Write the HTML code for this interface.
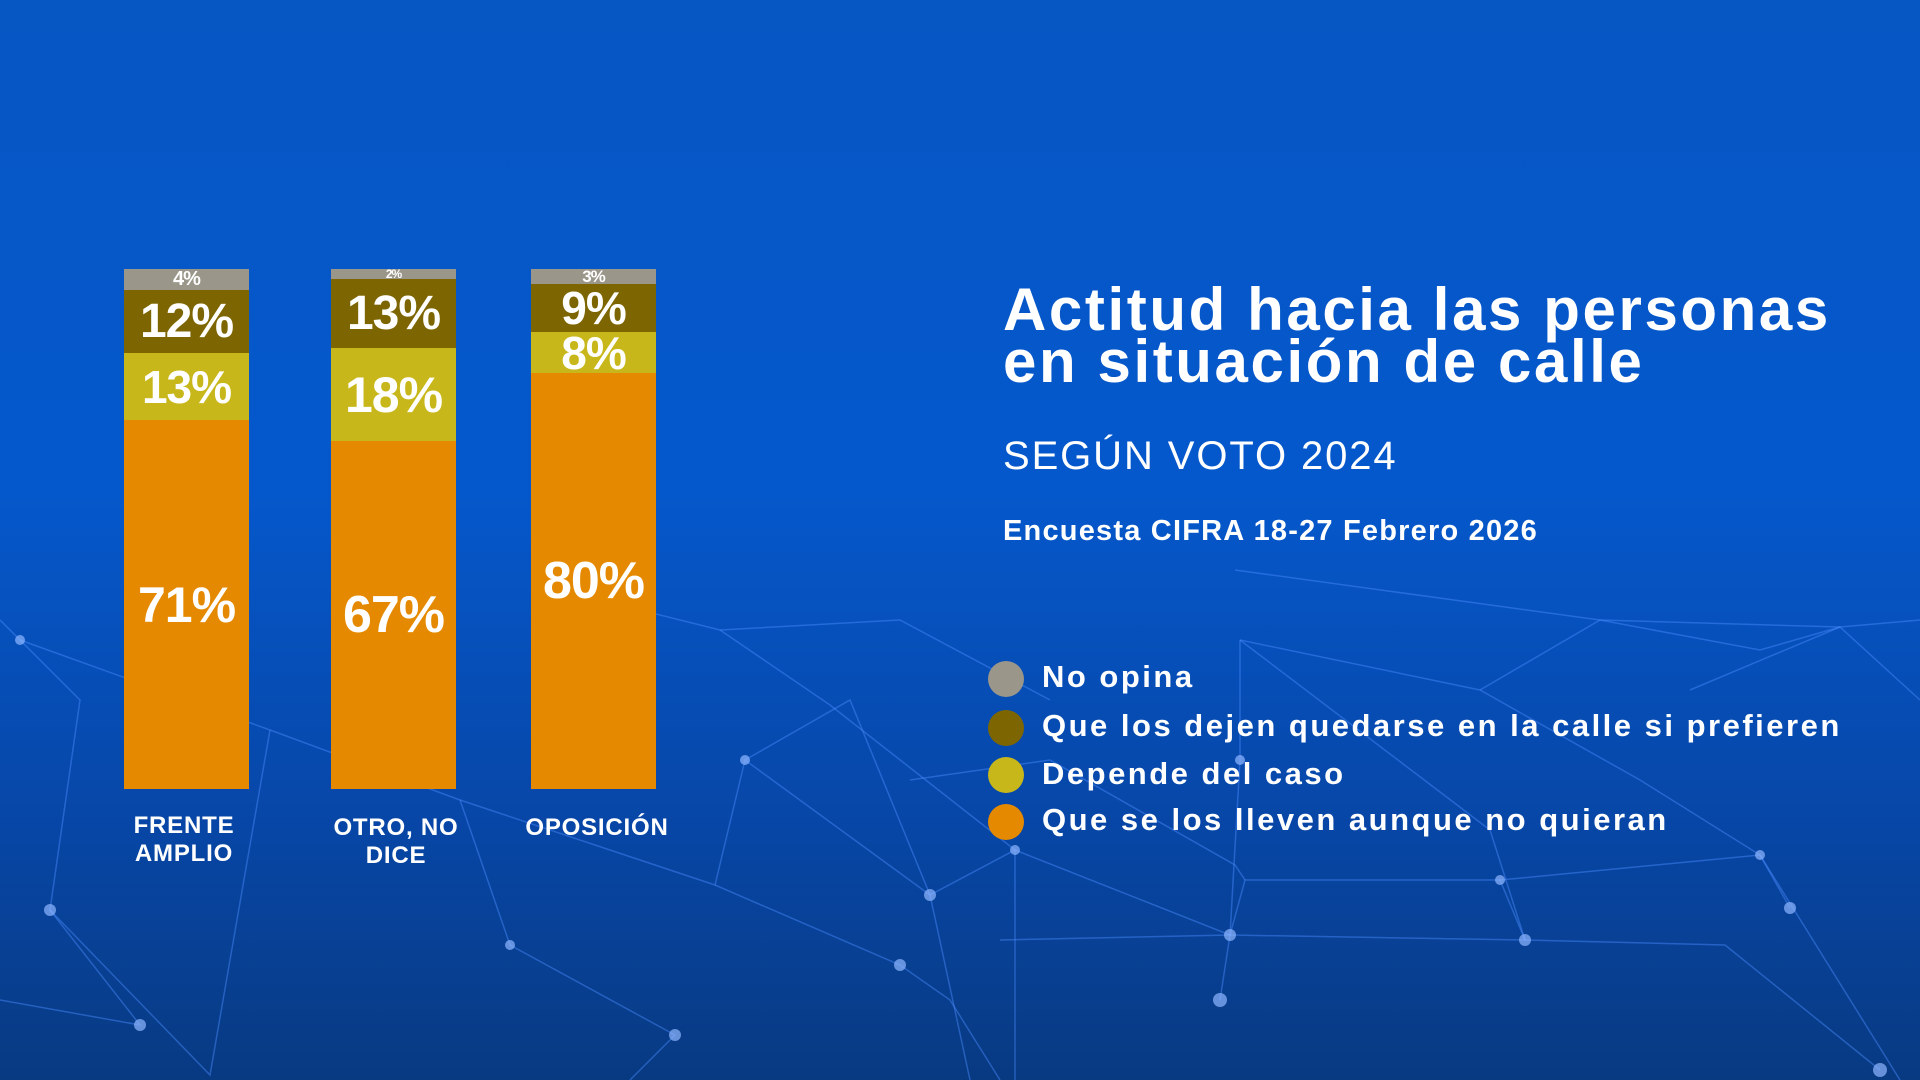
<!DOCTYPE html>
<html><head><meta charset="utf-8"><style>
body{margin:0;width:1920px;height:1080px;overflow:hidden;font-family:"Liberation Sans",sans-serif;}
#bg{position:absolute;left:0;top:0;width:1920px;height:1080px;background:linear-gradient(180deg,#0656c4 0%,#0558cc 45%,#0747a8 75%,#083a82 100%);}
.seg{position:absolute;display:flex;align-items:center;justify-content:center;color:#fff;font-weight:bold;letter-spacing:-1px;}
.t{position:absolute;color:#fff;white-space:nowrap;}
.cat{position:absolute;color:#fff;font-weight:bold;font-size:24px;text-align:center;line-height:28px;width:200px;letter-spacing:0.8px;}
.dot{position:absolute;width:36px;height:36px;border-radius:50%;}
.lg{position:absolute;color:#fff;font-weight:bold;font-size:31px;white-space:nowrap;letter-spacing:2.5px;}
</style></head><body>
<div id="bg"></div>
<svg style="position:absolute;left:0;top:0" width="1920" height="1080">
<g stroke="#4c8cff" stroke-opacity="0.45" stroke-width="1.5" fill="none">
<polyline points="0,620 20,640 80,700 50,910 140,1025 0,1000"/>
<polyline points="20,640 270,730 210,1075 50,910"/>
<polyline points="270,730 460,800 510,945 675,1035 630,1080"/>
<polyline points="460,800 715,885 745,760 930,895 970,1080"/>
<polyline points="715,885 900,965 950,1000 1000,1080"/>
<polyline points="745,760 850,700 930,895 1015,850 1230,935 1220,1000"/>
<polyline points="1240,640 1240,760 1230,935 1525,940 1500,880 1760,855 1790,908"/>
<polyline points="1240,640 1480,690 1640,780 1760,855 1900,1080"/>
<polyline points="1480,690 1600,620 1760,650 1840,627 1920,700"/>
<polyline points="1235,570 1600,620 1840,627"/>
<polyline points="1000,940 1230,935 1245,880 1500,880"/>
<polyline points="910,780 1050,760 1235,865 1245,880"/>
<polyline points="720,630 830,705 1015,850 1015,1080"/>
<polyline points="1240,640 1490,830 1525,940 1725,945 1880,1070"/>
<polyline points="1690,690 1840,627 1920,620"/>
<polyline points="600,600 720,630 900,620 1050,700"/>
</g>
<g fill="#8fb6ff" fill-opacity="0.7">
<circle cx="20" cy="640" r="5"/><circle cx="50" cy="910" r="6"/><circle cx="140" cy="1025" r="6"/><circle cx="510" cy="945" r="5"/><circle cx="675" cy="1035" r="6"/><circle cx="900" cy="965" r="6"/><circle cx="930" cy="895" r="6"/><circle cx="1220" cy="1000" r="7"/><circle cx="1230" cy="935" r="6"/><circle cx="1525" cy="940" r="6"/><circle cx="1790" cy="908" r="6"/><circle cx="1880" cy="1070" r="7"/><circle cx="1500" cy="880" r="5"/><circle cx="1240" cy="760" r="5"/><circle cx="1760" cy="855" r="5"/><circle cx="1015" cy="850" r="5"/><circle cx="745" cy="760" r="5"/>
</g>
</svg>

<div class="seg" style="left:124px;top:269px;width:125px;height:21px;background:#9a968a;font-size:20px">4%</div>
<div class="seg" style="left:124px;top:290px;width:125px;height:63px;background:#7d6602;font-size:48px">12%</div>
<div class="seg" style="left:124px;top:353px;width:125px;height:67px;background:#c8b71a;font-size:46px">13%</div>
<div class="seg" style="left:124px;top:420px;width:125px;height:369px;background:#e58a00;font-size:50px">71%</div>

<div class="seg" style="left:331px;top:269px;width:125px;height:10px;background:#9a968a;font-size:12px">2%</div>
<div class="seg" style="left:331px;top:279px;width:125px;height:69px;background:#7d6602;font-size:48px">13%</div>
<div class="seg" style="left:331px;top:348px;width:125px;height:93px;background:#c8b71a;font-size:50px">18%</div>
<div class="seg" style="left:331px;top:441px;width:125px;height:348px;background:#e58a00;font-size:52px">67%</div>

<div class="seg" style="left:531px;top:269px;width:125px;height:15px;background:#9a968a;font-size:17px">3%</div>
<div class="seg" style="left:531px;top:284px;width:125px;height:48px;background:#7d6602;font-size:46px">9%</div>
<div class="seg" style="left:531px;top:332px;width:125px;height:41px;background:#c8b71a;font-size:46px">8%</div>
<div class="seg" style="left:531px;top:373px;width:125px;height:416px;background:#e58a00;font-size:52px">80%</div>

<div class="cat" style="left:84px;top:812px">FRENTE<br>AMPLIO</div>
<div class="cat" style="left:296px;top:814px">OTRO, NO<br>DICE</div>
<div class="cat" style="left:497px;top:814px">OPOSICIÓN</div>

<div class="t" style="left:1003px;top:284px;font-size:60px;font-weight:bold;line-height:52px;letter-spacing:2.6px">Actitud hacia las personas<br>en situación de calle</div>
<div class="t" style="left:1003px;top:432px;font-size:40px;line-height:48px;letter-spacing:1.9px">SEGÚN VOTO 2024</div>
<div class="t" style="left:1003px;top:514px;font-size:29px;font-weight:bold;line-height:34px;letter-spacing:1.2px">Encuesta CIFRA 18-27 Febrero 2026</div>

<div class="dot" style="left:988px;top:661px;background:#9a968a"></div>
<div class="dot" style="left:988px;top:710px;background:#7d6602"></div>
<div class="dot" style="left:988px;top:757px;background:#c8b71a"></div>
<div class="dot" style="left:988px;top:804px;background:#e58a00"></div>
<div class="lg" style="left:1042px;top:659px">No opina</div>
<div class="lg" style="left:1042px;top:708px">Que los dejen quedarse en la calle si prefieren</div>
<div class="lg" style="left:1042px;top:756px">Depende del caso</div>
<div class="lg" style="left:1042px;top:802px">Que se los lleven aunque no quieran</div>
</body></html>
